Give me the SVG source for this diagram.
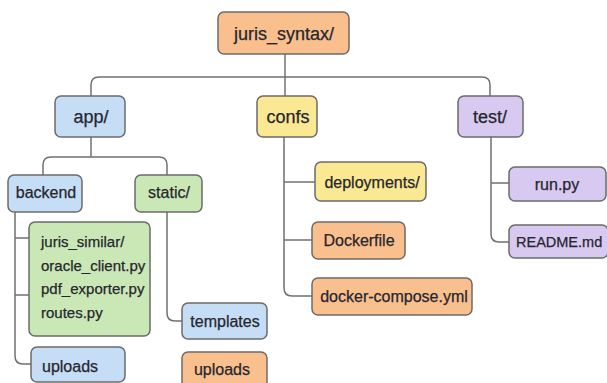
<svg xmlns="http://www.w3.org/2000/svg" width="607" height="383" viewBox="0 0 607 383">
<style>
.box{stroke:#6b6b6b;stroke-width:1.5}
.or{fill:#f9c08e}.bl{fill:#c5ddf5}.ye{fill:#fbe892}.pu{fill:#d8c9f0}.gr{fill:#c9e8b5}
text{font-family:"Liberation Sans",Arial,sans-serif;fill:#26262e;stroke:#26262e;stroke-width:0.25}
.l1{font-size:18px}.l2{font-size:16px}.l3{font-size:15px}
.c{text-anchor:middle}
.conn path{fill:none;stroke:#707070;stroke-width:1.5}
</style>
<rect width="607" height="383" fill="#ffffff"/>
<g class="conn">
<path d="M285 54V96"/>
<path d="M91 96V85Q91 77 99 77H482Q490 77 490 85V96"/>
<path d="M91 137V157"/>
<path d="M43 175V165Q43 157 51 157H159Q167 157 167 165V175"/>
<path d="M15 212V356Q15 364 23 364H31"/>
<path d="M15 238H29"/>
<path d="M15 295H29"/>
<path d="M167 212V313Q167 321 175 321H182"/>
<path d="M284 137V288Q284 296 292 296H312"/>
<path d="M284 182H315"/>
<path d="M284 240H312"/>
<path d="M491 137V234Q491 242 499 242H509"/>
<path d="M491 183H509"/>
</g>
<g id="root"><rect class="box or" x="218" y="12" width="131" height="42" rx="6"/><text class="l1 c" x="284" y="40">juris_syntax/</text></g>
<g id="app"><rect class="box bl" x="55" y="96" width="70" height="41" rx="6"/><text class="l1 c" x="91" y="123">app/</text></g>
<g id="confs"><rect class="box ye" x="257" y="96" width="60" height="41" rx="6"/><text class="l1 c" x="288" y="123">confs</text></g>
<g id="test"><rect class="box pu" x="458" y="96" width="65" height="41" rx="6"/><text class="l1 c" x="490" y="123">test/</text></g>
<g id="backend"><rect class="box bl" x="8" y="175" width="74" height="37" rx="6"/><text class="l2 c" x="46" y="198">backend</text></g>
<g id="static"><rect class="box gr" x="135" y="175" width="67" height="37" rx="6"/><text class="l2 c" x="169" y="198">static/</text></g>
<g id="backend-files"><rect class="box gr" x="29" y="222" width="121" height="114" rx="6"/>
<text class="l3" x="41" y="247">juris_similar/</text>
<text class="l3" x="41" y="271">oracle_client.py</text>
<text class="l3" x="41" y="294">pdf_exporter.py</text>
<text class="l3" x="41" y="318">routes.py</text></g>
<g id="uploads-backend"><rect class="box bl" x="31" y="347" width="94" height="35" rx="6"/><text class="l2" x="42" y="372">uploads</text></g>
<g id="templates"><rect class="box bl" x="182" y="303" width="85" height="36" rx="6"/><text class="l2 c" x="225" y="327">templates</text></g>
<g id="uploads-static"><rect class="box or" x="182" y="352" width="85" height="40" rx="6"/><text class="l2 c" x="222" y="375">uploads</text></g>
<g id="deployments"><rect class="box ye" x="315" y="162" width="111" height="39" rx="6"/><text class="l2 c" x="372" y="188">deployments/</text></g>
<g id="dockerfile"><rect class="box or" x="312" y="222" width="93" height="37" rx="6"/><text class="l2 c" x="359" y="246">Dockerfile</text></g>
<g id="docker-compose"><rect class="box or" x="312" y="278" width="160" height="37" rx="6"/><text class="l2 c" x="394" y="302">docker-compose.yml</text></g>
<g id="runpy"><rect class="box pu" x="509" y="167" width="97" height="34" rx="6"/><text class="l2 c" x="557" y="190">run.py</text></g>
<g id="readme"><rect class="box pu" x="509" y="225" width="99" height="33" rx="6"/><text x="516" y="247" style="font-size:14.5px">README.md</text></g>
</svg>
